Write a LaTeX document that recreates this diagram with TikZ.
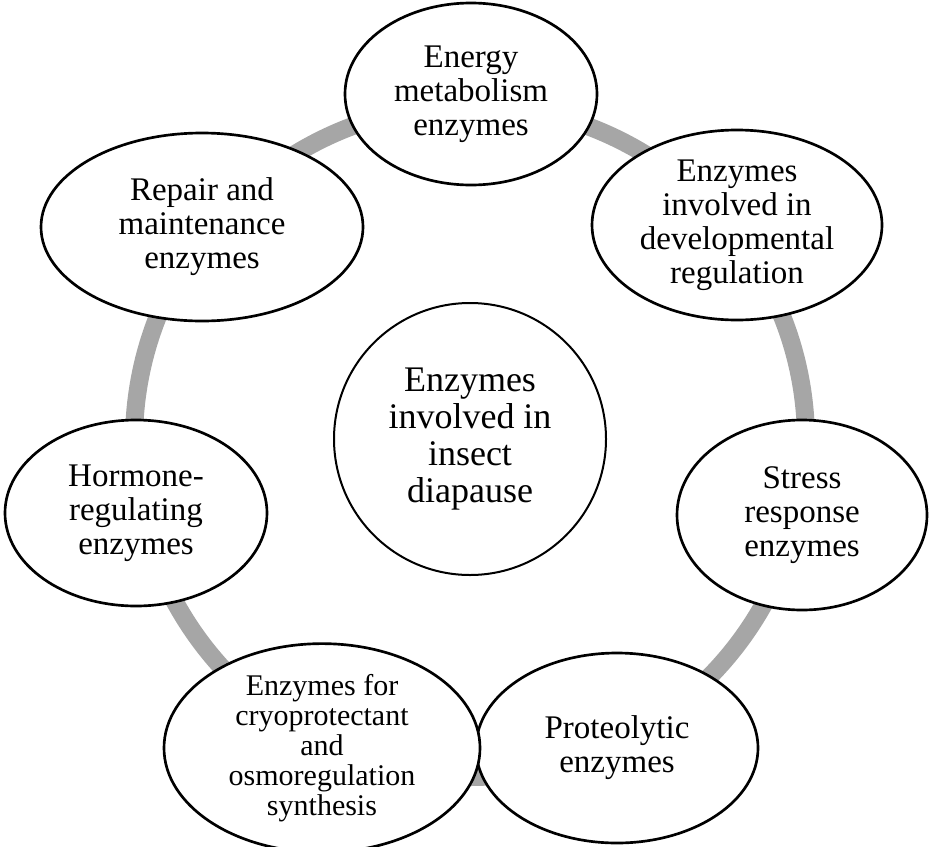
\documentclass[tikz,border=0pt]{standalone}
\usepackage{fontspec}
\setmainfont{Liberation Serif}
\usetikzlibrary{shapes.geometric}
\definecolor{ringgray}{HTML}{A6A6A6}
\begin{document}
\begin{tikzpicture}[x=0.75pt,y=-0.75pt,
  bubble/.style={ellipse, draw=black, line width=2pt, fill=white, inner sep=0pt, align=center,
    font=\fontsize{24.75}{25.5}\selectfont},
  hubstyle/.style={circle, draw=black, line width=1.5pt, fill=white, inner sep=0pt, align=center,
    font=\fontsize{27}{27.75}\selectfont},
  ringstyle/.style={draw=ringgray, line width=13.5pt}]
\useasboundingbox (0,0) rectangle (931,846);
\coordinate (ringc) at (470,441);
\draw[ringstyle] (ringc) circle [radius=336];
\node[hubstyle, minimum size=204pt] (hub) at (470,439) {Enzymes\\involved in\\insect\\diapause};
\node[bubble, minimum width=189pt, minimum height=136.5pt] (energy) at (471,94) {Energy\\metabolism\\enzymes};
\node[bubble, minimum width=217.5pt, minimum height=142.5pt] (dev) at (737,225) {Enzymes\\involved in\\developmental\\regulation};
\node[bubble, minimum width=187.5pt, minimum height=142.5pt] (stress) at (802,515) {Stress\\response\\enzymes};
\node[bubble, minimum width=211.5pt, minimum height=142.5pt] (prot) at (617,748) {Proteolytic\\enzymes};
\node[bubble, minimum width=237pt, minimum height=142.5pt, font=\fontsize{22.5}{22.5}\selectfont] (cryo) at (322,748) {Enzymes for\\cryoprotectant\\and\\osmoregulation\\synthesis};
\node[bubble, minimum width=196.5pt, minimum height=139.5pt] (horm) at (136,513) {Hormone-\\regulating\\enzymes};
\node[bubble, minimum width=241.5pt, minimum height=141pt] (repair) at (202,227) {Repair and\\maintenance\\enzymes};
\end{tikzpicture}
\end{document}
